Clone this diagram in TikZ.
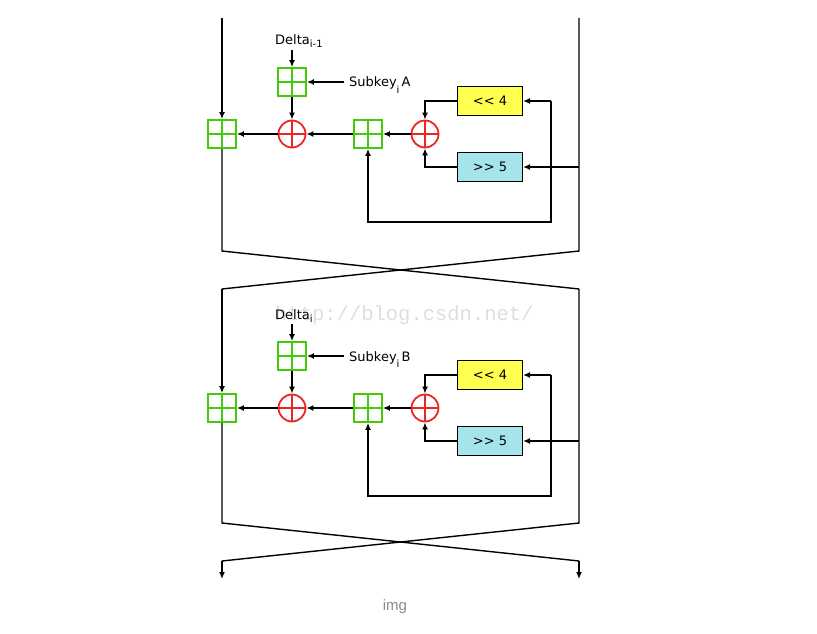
\documentclass[tikz,border=0pt]{standalone}
\usepackage{fontspec}
\setmainfont{DejaVu Sans}
\newfontfamily\markfont{Liberation Mono}
\newfontfamily\capfont{Liberation Sans}
\usetikzlibrary{arrows.meta}

\definecolor{addgreen}{RGB}{64,204,8}
\definecolor{xorred}{RGB}{236,36,36}
\definecolor{shlyellow}{RGB}{255,255,80}
\definecolor{shrcyan}{RGB}{164,228,234}
\definecolor{markgray}{RGB}{222,222,222}
\definecolor{capgray}{RGB}{140,140,140}

\tikzset{
  wire/.style={line width=1.4pt, draw=black},
  flow/.style={wire, -{Latex[length=7pt,width=6pt]}},
  addbox/.style={draw=addgreen, line width=1.8pt, minimum size=28pt, inner sep=0pt,
    path picture={\draw[addgreen, line width=1.5pt]
      (path picture bounding box.north) -- (path picture bounding box.south)
      (path picture bounding box.west) -- (path picture bounding box.east);}},
  xorc/.style={circle, draw=xorred, line width=1.8pt, minimum size=27pt, inner sep=0pt,
    path picture={\draw[xorred, line width=1.5pt]
      (path picture bounding box.north) -- (path picture bounding box.south)
      (path picture bounding box.west) -- (path picture bounding box.east);}},
  shiftbox/.style={draw=black, line width=1pt, minimum width=65pt, minimum height=29pt,
    inner sep=0pt, font=\fontsize{13}{15}\selectfont},
  lbl/.style={inner sep=0pt, font=\fontsize{13}{15}\selectfont},
}

% One Feistel-style round: #1 vertical offset, #2 node suffix,
% #3 delta index, #4 subkey letter
\newcommand\tearound[4]{%
\begin{scope}[yshift=-#1pt]
  \node[addbox] (out#2) at (222,134) {};
  \node[xorc] (kx#2) at (292,134) {};
  \node[addbox] (kadd#2) at (292,82) {};
  \node[addbox] (sadd#2) at (368,134) {};
  \node[xorc] (sx#2) at (425,134) {};
  \node[shiftbox, fill=shlyellow] (shl#2) at (490,101) {<\kern0pt< 4};
  \node[shiftbox, fill=shrcyan] (shr#2) at (490,167) {>\kern0pt> 5};
  \node[lbl, anchor=base west] (delta#2) at (275,45)
    {Delta\raisebox{-3pt}{\fontsize{10}{12}\selectfont #3}};
  \node[lbl, anchor=base west] (sk#2) at (349,87)
    {Subkey\raisebox{-6pt}{\fontsize{10}{12}\selectfont i}\,#4};
  \coordinate (dtop#2) at (292,50);
  \coordinate (sktail#2) at (344,82);
  \coordinate (tap#2) at (579,167);
  \coordinate (fbtop#2) at (551,101);
  \coordinate (fbbot#2) at (551,222);
  \coordinate (fbleft#2) at (368,222);
  \coordinate (shlturn#2) at (425,101);
  \coordinate (shrturn#2) at (425,167);
\end{scope}
\draw[flow] (dtop#2) -- (kadd#2.north);
\draw[flow] (sktail#2) -- (kadd#2.east);
\draw[flow] (kadd#2.south) -- (kx#2.north);
\draw[flow] (kx#2.west) -- (out#2.east);
\draw[flow] (sadd#2.west) -- (kx#2.east);
\draw[flow] (sx#2.west) -- (sadd#2.east);
\draw[flow] (shl#2.west) -- (shlturn#2) -- (sx#2.north);
\draw[flow] (shr#2.west) -- (shrturn#2) -- (sx#2.south);
\draw[flow] (tap#2) -- (shr#2.east);
\draw[flow] (fbtop#2) -- (shl#2.east);
\draw[flow] (fbtop#2) -- (fbbot#2) -- (fbleft#2) -- (sadd#2.south);
}

\begin{document}
\begin{tikzpicture}[x=1pt, y=-1pt]
\useasboundingbox (0,0) rectangle (817,634);

% faint address mark behind the second round
\node[anchor=base west, inner sep=0pt, text=markgray,
      font=\markfont\fontsize{20.5}{22}\selectfont] (mark) at (275,320)
  {http://blog.csdn.net/};

\tearound{0}{A}{i-1}{A}
\tearound{274}{B}{i}{B}

% side lines, crossings and outputs
\coordinate (lt) at (222,18);
\coordinate (rt) at (579,18);
\coordinate (l1) at (222,251);
\coordinate (r1) at (579,251);
\coordinate (l2) at (222,289);
\coordinate (r2) at (579,289);
\coordinate (l3) at (222,523);
\coordinate (r3) at (579,523);
\coordinate (l4) at (222,561);
\coordinate (r4) at (579,561);
\coordinate (lend) at (222,579);
\coordinate (rend) at (579,579);

\draw[flow] (lt) -- (outA.north);
\draw[wire] (outA.south) -- (l1) -- (r2);
\draw[wire] (rt) -- (r1) -- (l2);
\draw[flow] (l2) -- (outB.north);
\draw[wire] (outB.south) -- (l3) -- (r4);
\draw[flow] (r4) -- (rend);
\draw[wire] (r2) -- (r3) -- (l4);
\draw[flow] (l4) -- (lend);

\node[text=capgray, inner sep=0pt, font=\capfont\fontsize{15}{17}\selectfont]
  (cap) at (395,607) {img};
\end{tikzpicture}
\end{document}
